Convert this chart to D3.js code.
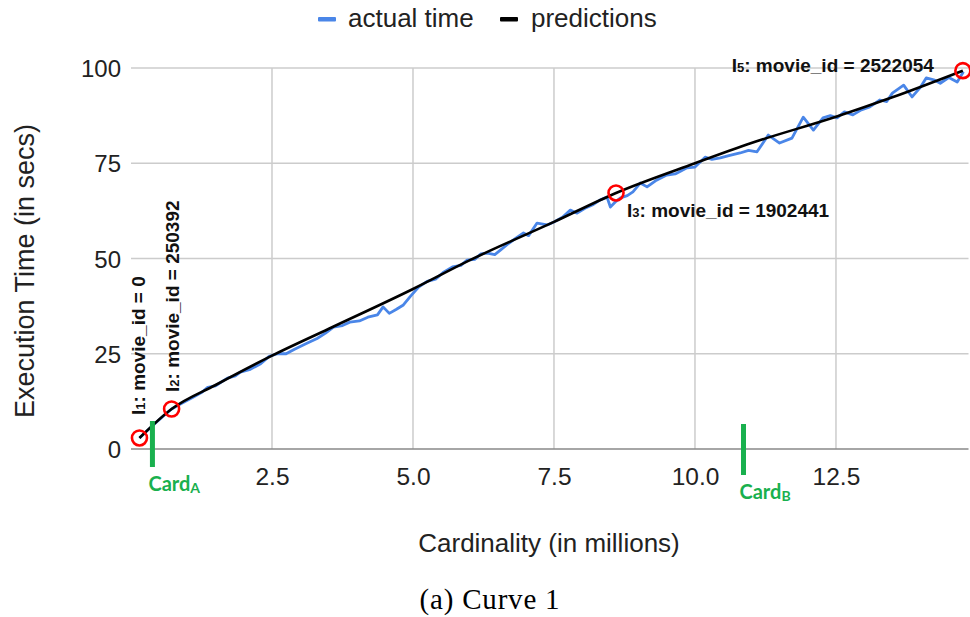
<!DOCTYPE html>
<html>
<head>
<meta charset="utf-8">
<script src="https://cdn.jsdelivr.net/npm/d3@7"></script>
<style>
  html, body { margin: 0; padding: 0; background: #fff; }
  svg { display: block; }
</style>
</head>
<body>
<svg id="chart" width="970" height="617"></svg>
<script>
// ---------- data ----------
const actualX = [0.15,0.3,0.45,0.6,0.72,0.9,1.1,1.25,1.36,1.5,1.71,1.85,1.94,2.1,2.3,2.45,2.6,2.75,2.9,3.1,3.3,3.45,3.59,3.75,3.88,4.05,4.2,4.37,4.47,4.58,4.7,4.83,4.95,5.1,5.25,5.4,5.55,5.7,5.85,5.96,6.1,6.2,6.32,6.45,6.55,6.7,6.85,6.96,7.05,7.2,7.38,7.5,7.65,7.79,7.91,8.05,8.2,8.32,8.44,8.5,8.6,8.68,8.8,8.9,9.03,9.15,9.3,9.5,9.65,9.86,10.0,10.18,10.3,10.45,10.6,10.8,10.95,11.1,11.3,11.5,11.72,11.92,12.1,12.27,12.4,12.52,12.65,12.8,12.95,13.1,13.28,13.4,13.5,13.7,13.85,14.0,14.1,14.25,14.35,14.5,14.65,14.76];
const actualTime = [2.9,5.0,7.0,9.0,10.5,12.0,13.6,14.8,16.2,16.6,18.6,19.2,20.2,20.8,22.4,24.3,25.0,25.0,26.2,27.6,29.0,30.4,32.0,32.4,33.3,33.6,34.6,35.2,37.3,35.6,36.6,37.8,40.0,42.5,44.0,44.6,46.5,47.8,48.2,49.6,49.8,51.2,51.4,51.0,52.2,54.0,55.6,56.7,56.0,59.3,58.8,59.6,60.8,62.7,61.9,63.2,64.2,65.4,66.1,63.5,65.0,65.9,66.5,67.5,69.8,68.8,70.4,71.9,72.2,73.8,74.0,76.6,76.0,76.4,77.0,77.7,78.4,78.0,82.4,80.3,81.6,87.1,83.7,86.9,87.5,86.9,88.5,87.7,89.0,89.8,91.6,91.2,93.4,95.5,92.4,95.0,97.4,96.8,96.0,97.5,96.3,99.0];

const predX = [0.15,0.72,1.5,2.5,3.5,5.0,6.0,7.5,8.6,10.0,11.0,12.5,13.5,14.75];
const predictions = [2.9,10.5,16.8,24.5,31.5,42.0,49.5,59.6,67.2,75.0,80.3,87.2,92.3,99.3];

const markerNames = ["1","2","3","5"];
const markerIds = ["0","250392","1902441","2522054"];
const markerX = [0.15,0.72,8.6,14.75];
const markerY = [2.9,10.5,67.2,99.3];

const cardNames = ["A","B"];
const cardX = [0.38,10.86];

const xTicks = [2.5,5.0,7.5,10.0,12.5];
const yTicks = [0,25,50,75,100];

const seriesNames = ["actual time","predictions"];
const seriesColors = ["#4a86e8","#000000"];

// ---------- layout ----------
const svg = d3.select("#chart");
const x = d3.scaleLinear().domain([0, 14.85]).range([131, 968.5]);
const y = d3.scaleLinear().domain([0, 100]).range([449, 68]);
const font = "'Liberation Sans', Arial, sans-serif";

// gridlines
svg.append("g")
  .selectAll("line.h").data(yTicks.filter(d => d > 0)).join("line")
  .attr("x1", x.range()[0]).attr("x2", x.range()[1])
  .attr("y1", d => y(d)).attr("y2", d => y(d))
  .attr("stroke", "#cccccc").attr("stroke-width", 1.5);
svg.append("g")
  .selectAll("line.v").data(xTicks).join("line")
  .attr("x1", d => x(d)).attr("x2", d => x(d))
  .attr("y1", y(100)).attr("y2", y(0))
  .attr("stroke", "#cccccc").attr("stroke-width", 1.5);

// baseline
svg.append("line")
  .attr("x1", x.range()[0]).attr("x2", x.range()[1])
  .attr("y1", y(0)).attr("y2", y(0))
  .attr("stroke", "#888888").attr("stroke-width", 1.5);

// axes (labels only)
const yAxis = d3.axisLeft(y).tickValues(yTicks).tickSize(0).tickPadding(0).tickFormat(d3.format("d"));
const gy = svg.append("g").attr("transform", "translate(121,0)").call(yAxis);
gy.select(".domain").remove();
gy.selectAll("text").attr("font-family", font).attr("font-size", 24).attr("fill", "#222").attr("dy", "0.36em");

const xAxis = d3.axisBottom(x).tickValues(xTicks).tickSize(0).tickPadding(0).tickFormat(d3.format(".1f"));
const gx = svg.append("g").attr("transform", "translate(0,467)").call(xAxis);
gx.select(".domain").remove();
gx.selectAll("text").attr("font-family", font).attr("font-size", 24.5).attr("fill", "#222").attr("dy", "0.72em");

// axis titles
svg.append("text")
  .attr("transform", "translate(34,271) rotate(-90)")
  .attr("text-anchor", "middle")
  .attr("font-family", font).attr("font-size", 27).attr("fill", "#222")
  .text("Execution Time (in secs)");
svg.append("text")
  .attr("x", 549).attr("y", 552)
  .attr("text-anchor", "middle")
  .attr("font-family", font).attr("font-size", 26).attr("fill", "#222")
  .text("Cardinality (in millions)");

// caption
svg.append("text")
  .attr("x", 490).attr("y", 609)
  .attr("text-anchor", "middle")
  .attr("font-family", "'Liberation Serif', 'DejaVu Serif', serif").attr("font-size", 29).attr("fill", "#000")
  .attr("letter-spacing", 0.8)
  .text("(a) Curve 1");

// lines
const actualData = actualX.map((d, i) => [d, actualTime[i]]);
const predData = predX.map((d, i) => [d, predictions[i]]);
const line = d3.line().x(d => x(d[0])).y(d => y(d[1]));
svg.append("path").datum(actualData)
  .attr("d", line).attr("fill", "none")
  .attr("stroke", seriesColors[0]).attr("stroke-width", 2.8).attr("stroke-linejoin", "round");
svg.append("path").datum(predData)
  .attr("d", d3.line().x(d => x(d[0])).y(d => y(d[1])).curve(d3.curveMonotoneX))
  .attr("fill", "none")
  .attr("stroke", seriesColors[1]).attr("stroke-width", 2.6);

// card markers
const cardY0 = [421, 424], cardY1 = [467, 475];
cardX.forEach((cx, i) => {
  svg.append("line")
    .attr("x1", x(cx)).attr("x2", x(cx))
    .attr("y1", cardY0[i]).attr("y2", cardY1[i])
    .attr("stroke", "#19b04e").attr("stroke-width", 5);
  const t = svg.append("text")
    .attr("x", x(cx) - 4).attr("y", cardY1[i] + 24)
    .attr("font-family", "Lato, 'Liberation Sans', sans-serif").attr("font-weight", "bold")
    .attr("font-size", 20).attr("fill", "#19b04e");
  t.append("tspan").text("Card");
  t.append("tspan").attr("font-size", 14).attr("dy", 2).text(cardNames[i]);
});

// red circles
svg.append("g").selectAll("circle").data(markerX).join("circle")
  .attr("cx", d => x(d)).attr("cy", (d, i) => y(markerY[i]))
  .attr("r", 7.5).attr("fill", "none").attr("stroke", "#ff0000").attr("stroke-width", 2.6);

// annotation labels
function addLabel(g, i) {
  g.attr("font-family", font).attr("font-weight", "bold").attr("font-size", 19).attr("fill", "#111");
  g.append("tspan").text("I");
  g.append("tspan").attr("font-size", 13).text(markerNames[i]);
  g.append("tspan").text(": movie_id = " + markerIds[i]);
}
// I1, I2 rotated
[[0, 6, -23], [1, 7, -17]].forEach(([i, dx, dy]) => {
  const t = svg.append("text")
    .attr("transform", `translate(${x(markerX[i]) + dx},${y(markerY[i]) + dy}) rotate(-90)`)
    .attr("text-anchor", "start");
  addLabel(t, i);
});
// I3
addLabel(svg.append("text").attr("x", x(markerX[2]) + 11).attr("y", y(markerY[2]) + 24), 2);
// I5
addLabel(svg.append("text").attr("x", x(markerX[3]) - 29).attr("y", y(markerY[3]) + 1).attr("text-anchor", "end"), 3);

// legend
const legendX = [318, 500];
const legendTextX = [348, 531];
seriesNames.forEach((name, i) => {
  svg.append("rect").attr("x", legendX[i]).attr("y", 17).attr("width", 18).attr("height", 4.5)
    .attr("fill", seriesColors[i]).attr("rx", 1);
  svg.append("text").attr("x", legendTextX[i]).attr("y", 27)
    .attr("font-family", font).attr("font-size", 26).attr("fill", "#222")
    .text(name);
});
</script>
</body>
</html>
